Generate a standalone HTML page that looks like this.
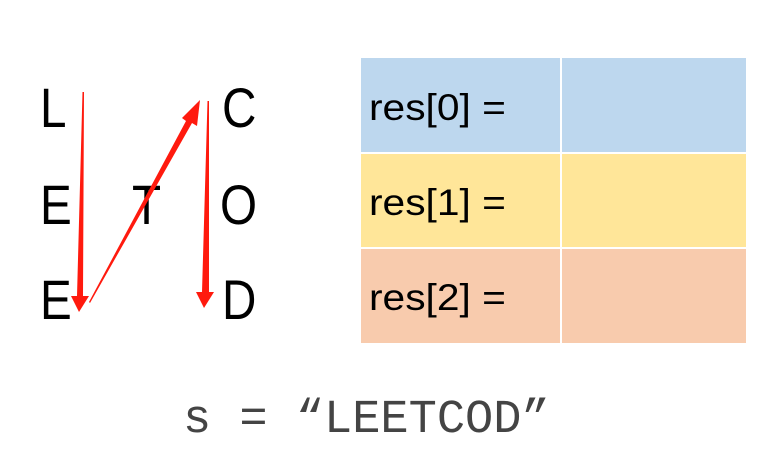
<!DOCTYPE html>
<html><head><meta charset="utf-8"><style>
html,body{margin:0;padding:0;background:#fff;}
body{width:774px;height:462px;position:relative;overflow:hidden;font-family:"Liberation Sans",sans-serif;}
.l{position:absolute;font-size:56px;line-height:1;color:#000;transform:scaleX(0.85);transform-origin:left top;}
.c{position:absolute;}
.t{position:absolute;font-size:37px;line-height:1;color:#000;transform:scaleX(1.1);transform-origin:left top;}
</style></head><body>
<div class="l" style="left:40px;top:80px">L</div>
<div class="l" style="left:40px;top:177px">E</div>
<div class="l" style="left:40px;top:272px">E</div>
<div class="l" style="left:132px;top:177px">T</div>
<div class="l" style="left:222px;top:80px">C</div>
<div class="l" style="left:220px;top:177px">O</div>
<div class="l" style="left:222px;top:272px">D</div>

<div class="c" style="left:361px;top:58px;width:199px;height:94px;background:#BDD7EE"></div>
<div class="c" style="left:562px;top:58px;width:184px;height:94px;background:#BDD7EE"></div>
<div class="c" style="left:361px;top:154px;width:199px;height:93px;background:#FFE699"></div>
<div class="c" style="left:562px;top:154px;width:184px;height:93px;background:#FFE699"></div>
<div class="c" style="left:361px;top:249px;width:199px;height:94px;background:#F8CBAD"></div>
<div class="c" style="left:562px;top:249px;width:184px;height:94px;background:#F8CBAD"></div>
<div class="t" style="left:369px;top:89px">res[0] =</div>
<div class="t" style="left:369px;top:184px">res[1] =</div>
<div class="t" style="left:369px;top:279px">res[2] =</div>

<svg width="774" height="462" style="position:absolute;left:0;top:0">
<g fill="#FF1A0E">
<polygon points="82.5,92 84,92 83,296 89,296 79,312 71,296 77,296"/>
<polygon points="90,303 89,302 186,121 182,118 200,100 197,126 192,123"/>
<polygon points="207.5,101 209,101 209,292 214,292 204,308 196,292 202,292"/>
</g>
</svg>

<div style="position:absolute;left:183px;top:397px;font-family:'Liberation Mono',monospace;font-size:47px;line-height:1;color:#444;white-space:pre">s = “LEETCOD”</div>
</body></html>
